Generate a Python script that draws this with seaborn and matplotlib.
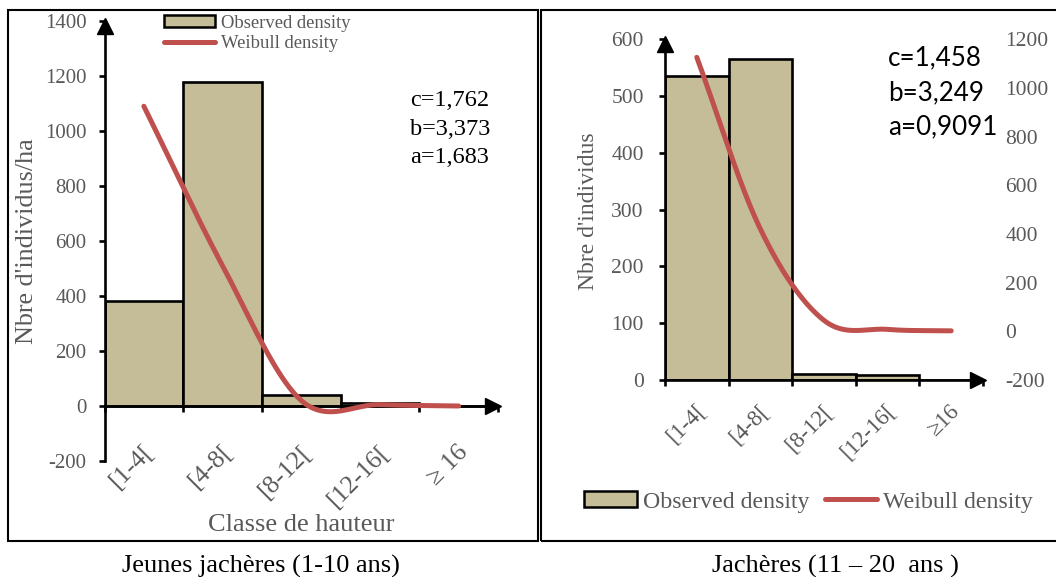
import numpy as np
import pandas as pd
import matplotlib
matplotlib.use("Agg")
import matplotlib.pyplot as plt
from matplotlib.patches import Rectangle, Patch
from matplotlib.lines import Line2D
from matplotlib.transforms import ScaledTranslation, offset_copy
import seaborn as sns

# ---------------- data ----------------
classes_young = ["[1-4[", "[4-8[", "[8-12[", "[12-16[", "\u2265 16"]
observed_young = [383, 1180, 40, 12, 1]
weibull_young = [1090, 510, 20, 5, 0]
params_young = ["c=1,762", "b=3,373", "a=1,683"]

classes_old = ["[1-4[", "[4-8[", "[8-12[", "[12-16[", "\u226516"]
observed_old = [535, 565, 11, 9, 0]
weibull_old = [1126, 420, 45, 8, 2]
params_old = ["c=1,458", "b=3,249", "a=0,9091"]

yticks_young = [-200, 0, 200, 400, 600, 800, 1000, 1200, 1400]
yticks_old = [0, 100, 200, 300, 400, 500, 600]
yticks_old_right = [-200, 0, 200, 400, 600, 800, 1000, 1200]

legend_labels = ["Observed density", "Weibull density"]
caption_young = "Jeunes jachères (1-10 ans)"
caption_old = "Jachères (11 \u2013 20  ans )"

BAR = "#C4BD97"
RED = "#C0504D"
GRAY = "#595959"

sns.set_theme(style="white")
plt.rcParams["font.family"] = ["Liberation Serif", "DejaVu Serif"]
plt.rcParams["axes.unicode_minus"] = False

W, H = 1056, 577
fig = plt.figure(figsize=(W / 100, H / 100), dpi=100)


def fx(px):
    return px / W


def fy(py):
    return 1 - py / H


def smooth(values, n=40):
    """Excel-like smoothed line through the points (Catmull-Rom)."""
    y = np.asarray(values, float)
    k = len(y)
    m = np.empty(k)
    m[1:-1] = (y[2:] - y[:-2]) / 2
    m[0] = y[1] - y[0]
    m[-1] = y[-1] - y[-2]
    xs, ys = [], []
    for i in range(k - 1):
        t = np.linspace(0, 1, n, endpoint=(i == k - 2))
        h00 = 2 * t**3 - 3 * t**2 + 1
        h10 = t**3 - 2 * t**2 + t
        h01 = -2 * t**3 + 3 * t**2
        h11 = t**3 - t**2
        xs.append(i + t)
        ys.append(h00 * y[i] + h10 * m[i] + h01 * y[i + 1] + h11 * m[i + 1])
    return np.concatenate(xs), np.concatenate(ys)


def style_axis(ax, labels, ypad, tick_fs, xtick_fs, xlab_pad, xlab_dx):
    for s in ["top", "right"]:
        ax.spines[s].set_visible(False)
    for s in ["left", "bottom"]:
        ax.spines[s].set_color("black")
        ax.spines[s].set_linewidth(1.9)
    ax.set_xlim(-0.5, 4.5)
    ax.set_xticks(np.arange(-0.5, 5.0, 1.0))
    ax.set_xticklabels([])
    ax.set_xticks(range(len(labels)), minor=True)
    ax.set_xticklabels(labels, minor=True, rotation=45, ha="right",
                       va="center", rotation_mode="anchor",
                       fontsize=xtick_fs, color=GRAY)
    ax.tick_params(axis="x", which="major", direction="out", length=4.5,
                   width=1.9, color="black", bottom=True)
    ax.tick_params(axis="x", which="minor", length=0, pad=xlab_pad, bottom=True)
    ax.tick_params(axis="y", direction="out", length=4.5, width=1.9,
                   color="black", left=True, labelsize=tick_fs,
                   labelcolor=GRAY, pad=ypad)
    off = ScaledTranslation(xlab_dx / 100, 0, fig.dpi_scale_trans)
    for lab in ax.get_xticklabels(minor=True):
        lab.set_transform(lab.get_transform() + off)
    ax.set_xlabel("")
    ax.set_ylabel("")
    ax.grid(False)


def arrows(ax, ybase):
    tr = offset_copy(ax.get_yaxis_transform(), fig=fig, x=-5, y=0, units="dots")
    ax.plot([1], [ybase], marker=">", color="black", ms=11, transform=tr,
            clip_on=False, zorder=6)
    tr2 = offset_copy(ax.get_xaxis_transform(), fig=fig, x=0, y=-5, units="dots")
    ax.plot([-0.5], [1], marker="^", color="black", ms=11, transform=tr2,
            clip_on=False, zorder=6)


# ---------------- frames ----------------
fig.add_artist(Rectangle((fx(7.5), fy(541)), fx(537.5) - fx(7.5), fy(9.5) - fy(541),
                         transform=fig.transFigure, fill=False, ec="black", lw=1.5))
fig.add_artist(Rectangle((fx(540.5), fy(541)), fx(1070) - fx(540.5), fy(9.5) - fy(541),
                         transform=fig.transFigure, fill=False, ec="black", lw=1.5))

# ---------------- left chart ----------------
axL = fig.add_axes([fx(104.5), fy(461), fx(498) - fx(104.5), fy(21) - fy(461)])
axL.patch.set_alpha(0)
dfL = pd.DataFrame({"classe": classes_young, "obs": observed_young})
sns.barplot(data=dfL, x="classe", y="obs", ax=axL, width=1.0, color=BAR,
            saturation=1, edgecolor="black", linewidth=1.9, zorder=2)
xs, ys = smooth(weibull_young)
sns.lineplot(x=xs, y=ys, ax=axL, color=RED, lw=3.6, sort=False,
             estimator=None, zorder=4)
axL.set_ylim(-200, 1400)
axL.set_yticks(yticks_young)
axL.spines["bottom"].set_position(("data", 0))
style_axis(axL, classes_young, ypad=8.3, tick_fs=15, xtick_fs=18.5,
           xlab_pad=31, xlab_dx=6)
arrows(axL, 0)
axL.set_ylabel("Nbre d'individus/ha", fontsize=18.8, color=GRAY, va="center")
axL.yaxis.set_label_coords(fx(27 - 104.5) / fx(498 - 104.5), 0.5)
axL.set_xlabel("Classe de hauteur", fontsize=19, color=GRAY, va="center")
axL.xaxis.set_label_coords(0.499, (461 - 525) / 440)
for i, t in enumerate(params_young):
    fig.text(fx(410), fy(101 + 28.3 * i), t, fontsize=17.5, color="black", va="center")

fig.legend(handles=[Patch(facecolor=BAR, edgecolor="black", lw=1.8),
                    Line2D([], [], color=RED, lw=3.6)],
           labels=legend_labels, loc="upper left",
           bbox_to_anchor=(fx(164), fy(14.5)), frameon=False, fontsize=13.4,
           labelcolor=GRAY, handlelength=2.75, handleheight=0.55,
           handletextpad=0.3, labelspacing=0.2, borderpad=0, borderaxespad=0)

# ---------------- right chart ----------------
axR = fig.add_axes([fx(665), fy(380), fx(983) - fx(665), fy(39.3) - fy(380)])
axR.patch.set_alpha(0)
dfR = pd.DataFrame({"classe": classes_old, "obs": observed_old})
sns.barplot(data=dfR, x="classe", y="obs", ax=axR, width=1.0, color=BAR,
            saturation=1, edgecolor="black", linewidth=1.9, zorder=2)
axR.set_ylim(0, 600)
axR.set_yticks(yticks_old)
style_axis(axR, classes_old, ypad=10.8, tick_fs=15.5, xtick_fs=16.5,
           xlab_pad=20, xlab_dx=5)
arrows(axR, 0)
axR.set_ylabel("Nbre d'individus", fontsize=17, color=GRAY, va="center")
axR.yaxis.set_label_coords((588 - 665) / (983 - 665), (380 - 211.5) / (380 - 39.3))

ax2 = axR.twinx()
xs2, ys2 = smooth(weibull_old)
sns.lineplot(x=xs2, y=ys2, ax=ax2, color=RED, lw=3.6, sort=False,
             estimator=None, zorder=4)
ax2.set_ylim(-200, 1200)
ax2.set_yticks(yticks_old_right)
ax2.set_ylabel("")
for s in ax2.spines.values():
    s.set_visible(False)
ax2.tick_params(axis="y", length=0, pad=16, labelsize=15.5, labelcolor=GRAY)
ax2.grid(False)

for i, t in enumerate(params_old):
    fig.text(fx(888), fy(58 + 34.5 * i), t, fontsize=18.7, color="black",
             va="center", family=["Lato", "DejaVu Sans"])

fig.legend(handles=[Patch(facecolor=BAR, edgecolor="black", lw=1.8),
                    Line2D([], [], color=RED, lw=3.6)],
           labels=legend_labels, loc="center left", ncol=2,
           bbox_to_anchor=(fx(584), fy(502)), frameon=False, fontsize=17.2,
           labelcolor=GRAY, handlelength=2.2, handleheight=0.6,
           handletextpad=0.25, columnspacing=0.65, borderpad=0, borderaxespad=0)

# ---------------- captions ----------------
fig.text(fx(261), fy(566), caption_young, fontsize=19, color="black",
         ha="center", va="center")
fig.text(fx(835), fy(566), caption_old, fontsize=19, color="black",
         ha="center", va="center")

fig.savefig("out.png", dpi=100)
